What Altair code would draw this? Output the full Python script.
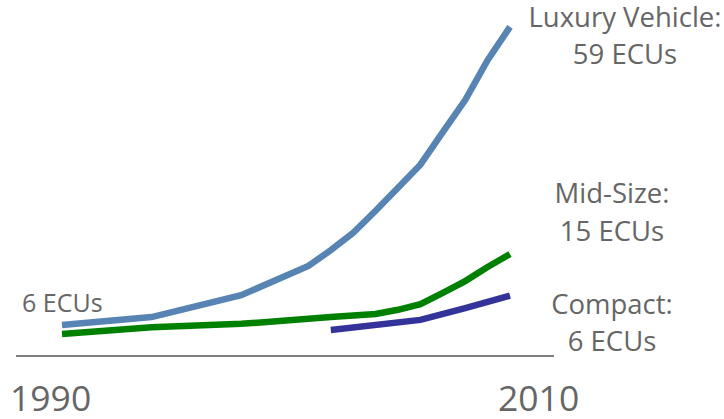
import altair as alt
import pandas as pd

# ECU counts per vehicle class over time
lux_years = [1990, 1994, 1998, 2001, 2002, 2003, 2004, 2005, 2006, 2007, 2008, 2009, 2010]
lux_ecus = [6, 7.4, 11.3, 16.5, 19.3, 22.4, 26.3, 30.4, 34.5, 40.3, 46.0, 53.1, 59]

mid_years = [1990, 1994, 1998, 2002, 2004, 2005, 2006, 2007, 2008, 2009, 2010]
mid_ecus = [4.4, 5.6, 6.2, 7.4, 7.95, 8.7, 9.7, 11.7, 13.8, 16.3, 18.6]

cmp_years = [2002, 2006, 2008, 2010]
cmp_ecus = [5.1, 6.9, 9.0, 11.2]

series_names = ["Luxury Vehicle", "Mid-Size", "Compact"]
series_colors = ["#5784b2", "#008000", "#333399"]

rows = []
for name, ys, vs in zip(series_names, [lux_years, mid_years, cmp_years], [lux_ecus, mid_ecus, cmp_ecus]):
    for y, v in zip(ys, vs):
        rows.append({"series": name, "year": y, "ecus": v})
df = pd.DataFrame(rows)

x_scale = alt.Scale(domain=[1987.232, 2019.554], nice=False, zero=False)
y_scale = alt.Scale(domain=[-10.72, 63.79], nice=False, zero=False)

lines = alt.Chart(df).mark_line(strokeWidth=6.5, strokeCap="butt", strokeJoin="miter").encode(
    x=alt.X("year:Q", scale=x_scale, axis=None),
    y=alt.Y("ecus:Q", scale=y_scale, axis=None),
    color=alt.Color("series:N", scale=alt.Scale(domain=series_names, range=series_colors), legend=None),
    detail="series:N",
)

baseline = alt.Chart(pd.DataFrame({"a": [0]})).mark_rule(color="#7f7f7f", strokeWidth=2).encode(
    x=alt.value(16), x2=alt.value(554), y=alt.value(356)
)

label_text = ["Luxury Vehicle:", "59 ECUs", "Mid-Size:", "15 ECUs", "Compact:", "6 ECUs"]
label_x = [625, 625, 612, 612, 612, 612]
label_y = [27, 64, 203, 241, 314, 351]
labels_df = pd.DataFrame({"t": label_text, "px": label_x, "py": label_y})

right_labels = alt.Chart(labels_df).mark_text(
    font="Open Sans", fontSize=27.5, color="#666666", align="center", baseline="alphabetic"
).encode(
    text="t:N",
    x=alt.X("px:Q", scale=None),
    y=alt.Y("py:Q", scale=None),
)

start_label = alt.Chart(pd.DataFrame({"t": ["6 ECUs"]})).mark_text(
    font="Open Sans", fontSize=25, color="#666666", align="left", baseline="alphabetic"
).encode(text="t:N", x=alt.value(22), y=alt.value(312))

years_df = pd.DataFrame({"t": ["1990", "2010"], "px": [10, 498]})
year_labels = alt.Chart(years_df).mark_text(
    font="Open Sans", fontSize=35.5, color="#666666", align="left", baseline="alphabetic"
).encode(
    text="t:N",
    x=alt.X("px:Q", scale=None),
    y=alt.value(411),
)

chart = alt.layer(baseline, lines, right_labels, start_label, year_labels).properties(
    width=724, height=419, padding=0, autosize=alt.AutoSizeParams(type="none")
).configure_view(stroke=None).resolve_scale(x="independent", y="independent")

chart.save("out.html", embed_options={"renderer": "svg", "actions": False})
